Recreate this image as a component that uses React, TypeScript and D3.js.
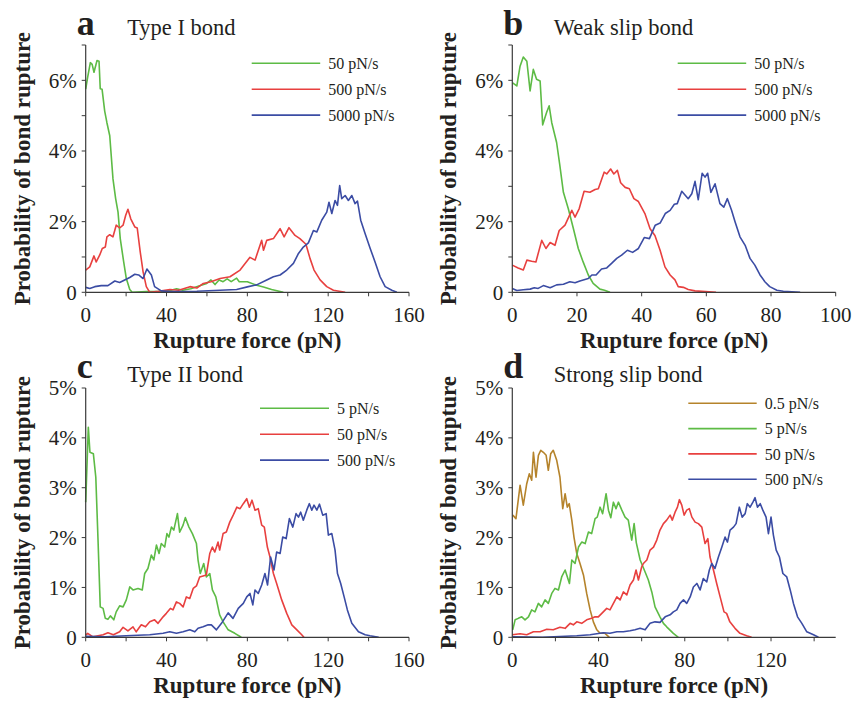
import React from "react";
import * as d3 from "d3";

// ---------- DATA (rupture force pN, probability %) ----------
const typeI_50: [number, number][] = [[0,5.75],[1,6.1],[2.3,6.5],[3.2,6.45],[4.1,6.23],[5.6,6.56],[6.6,6.54],[7.2,5.76],[8.1,5.75],[9.4,5.13],[10.5,4.8],[11.9,4.43],[13.5,3.21],[14.8,2.66],[16,2.27],[17.1,1.52],[18.8,0.86],[20.1,0.39],[21.8,0.08],[23,0],[30,0.02],[36,0.02],[41.7,0.05],[45,0.1],[48,0.06],[52,0.1],[56,0.18],[59.9,0.25],[62,0.35],[64,0.22],[66,0.35],[68,0.3],[70,0.38],[72,0.3],[74.7,0.4],[76,0.3],[80,0.3],[84.6,0.2],[88,0.15],[92,0.08],[97.8,0]];
const typeI_500: [number, number][] = [[0,0.63],[2,0.72],[4.1,1.03],[5.2,0.86],[6.9,1.05],[8.2,1.24],[9.7,1.28],[10.5,1.57],[11.9,1.63],[13.5,1.57],[15.1,1.9],[16.8,1.82],[18.5,1.9],[19.8,2.18],[20.9,2.35],[22.3,2.08],[24.3,1.85],[25.5,1.82],[27,1.14],[28.4,0.58],[30,0.16],[31.7,0],[36,0.03],[41.7,0.08],[46,0.06],[51.6,0.16],[55,0.12],[58.2,0.25],[62,0.3],[66.5,0.39],[71.4,0.44],[76.4,0.63],[81.3,0.99],[83.8,0.91],[87.1,1.47],[88,1.19],[89.6,1.47],[92.9,1.52],[96.2,1.8],[98.2,1.57],[100.6,1.83],[103.6,1.61],[106,1.52],[109,1.36],[111,0.96],[113,0.63],[116,0.35],[119.3,0.16],[122.6,0.06],[128.4,0]];
const typeI_5000: [number, number][] = [[0,0.14],[2,0.11],[4.5,0.16],[7.7,0.19],[11,0.19],[14.4,0.32],[16.8,0.28],[19.3,0.35],[21.8,0.42],[24.3,0.51],[26.2,0.49],[28.4,0.39],[30.3,0.66],[32.5,0.49],[34.1,0.16],[37.4,0.04],[42,0.02],[55,0.03],[66.5,0.06],[74.7,0.08],[80.5,0.16],[84.6,0.21],[89.6,0.35],[92.9,0.44],[96.2,0.49],[99.5,0.63],[102.8,0.82],[105.3,1.1],[107.7,1.28],[110.2,1.4],[112.7,1.75],[114.4,1.71],[116.8,2.04],[119.3,2.27],[120.4,2.55],[121.8,2.23],[123.4,2.6],[124.6,2.46],[125.7,3.02],[126.7,2.65],[128.4,2.74],[130,2.6],[131.7,2.74],[133.3,2.51],[134.5,2.58],[136.1,2.04],[138.3,1.66],[140.8,1.24],[143.2,0.86],[145.7,0.44],[148.2,0.16],[151.5,0.06],[154,0]];

const weak_50: [number, number][] = [[0.1,5.93],[1.4,5.84],[2.4,6.4],[3.4,6.66],[4.5,6.54],[5.5,5.7],[6.5,6.31],[7.5,6.03],[8.6,5.98],[9.4,4.74],[10.6,5.09],[11.4,5.28],[12.2,4.8],[13.7,4.24],[14.7,3.59],[15.8,2.83],[17.3,2.37],[18.9,1.8],[20.4,1.24],[21.9,0.86],[23.5,0.49],[25,0.25],[27.1,0.09],[28.5,0.06],[30.2,0]];
const weak_500: [number, number][] = [[0,0.77],[1.8,0.69],[3.4,0.63],[4.5,0.91],[6,0.88],[7.3,0.86],[9.1,1.47],[10.4,1.24],[11.7,1.41],[13.2,1.33],[14.5,1.75],[16.3,1.9],[18.4,2.32],[19.4,2.13],[20.7,2.37],[22.2,2.86],[24,2.83],[25.6,2.91],[26.6,2.93],[28.4,3.4],[29.2,3.35],[30.4,3.49],[31.4,3.35],[32.5,3.45],[33.5,3.1],[34.9,2.97],[36.2,2.93],[37.6,2.65],[39,2.57],[41,2.23],[42.6,1.8],[44.1,1.61],[45.7,1.19],[47.2,0.72],[48.8,0.49],[50.3,0.35],[51.3,0.16],[52.9,0.14],[54.4,0.08],[56.5,0.04],[63,0]];
const weak_5000: [number, number][] = [[0,0.11],[1.4,0.05],[3.4,0.07],[5.5,0.09],[6.8,0.13],[8,0.11],[9.6,0.19],[11.7,0.13],[13.7,0.21],[15.8,0.23],[17.8,0.3],[19.4,0.27],[20.9,0.32],[23.5,0.39],[24.6,0.49],[25.9,0.49],[27.6,0.66],[29.2,0.69],[30.7,0.82],[32.3,0.96],[33.8,1.05],[35.6,1.19],[37.2,1.13],[39,1.24],[40.8,1.55],[42.4,1.52],[44.2,1.9],[45.7,1.96],[47.3,2.23],[48.8,2.32],[50.1,2.49],[51,2.51],[52.4,2.86],[54.4,2.65],[55.5,2.79],[56.5,3.14],[57.5,2.62],[58.7,3.37],[59.6,3.26],[60.4,3.37],[61.4,2.83],[62.7,3.07],[64.2,2.51],[65.4,2.41],[66.5,2.65],[67.8,2.32],[68.9,1.99],[70.4,1.57],[72,1.33],[73.5,0.96],[75,0.77],[76.6,0.49],[78.1,0.3],[79.6,0.16],[81.8,0.06],[83.8,0.03],[89,0]];

const typeII_5: [number, number][] = [[0,2.71],[1.3,4.21],[2.1,3.71],[3.8,3.68],[5,3.21],[6.1,1.95],[7.2,0.61],[8.6,0.58],[9.7,0.38],[11,0.36],[12.2,0.43],[13.9,0.35],[15.1,0.51],[16.8,0.63],[18.5,0.61],[20.1,0.75],[21.8,1.01],[23.4,0.95],[25.9,0.98],[28,0.95],[29.2,1.28],[30.8,1.38],[32.5,1.65],[33.7,1.55],[35,1.85],[36.3,1.68],[37.4,1.88],[39.1,1.81],[40.2,2.08],[41.2,2.01],[42.4,2.21],[43.6,2.15],[45.4,2.48],[46.5,2.11],[48.2,2.25],[49.3,2.4],[51.1,2.21],[52.8,2.08],[54.8,1.88],[55.6,1.55],[56.7,1.28],[58.4,1.48],[59.7,1.21],[61.4,1.28],[62.7,0.95],[64.4,0.81],[66.3,0.45],[68,0.31],[70.5,0.15],[73.8,0.08],[77,0]];
const typeII_50: [number, number][] = [[0,0.05],[1,0.08],[3.6,0.01],[8.6,0.05],[11,0.09],[13.7,0.05],[16.8,0.11],[18.5,0.2],[20.9,0.13],[23.4,0.21],[25,0.11],[27.5,0.25],[29.6,0.21],[31.7,0.31],[34.1,0.35],[35.8,0.28],[38.3,0.41],[39.9,0.48],[41.9,0.58],[43.2,0.55],[44.9,0.71],[46.5,0.68],[48.2,0.61],[49.8,0.81],[51.5,0.78],[53.2,0.98],[54.8,1.03],[56.4,1.21],[58.1,1.23],[59.7,1.25],[61.4,1.68],[62.7,1.81],[63.9,1.71],[65.5,1.91],[66.3,1.75],[68,2.08],[69.6,2.11],[71.3,2.31],[73,2.45],[74.8,2.61],[76.4,2.58],[78,2.68],[79.7,2.78],[81,2.61],[82.3,2.75],[83.8,2.55],[85.4,2.58],[87.1,2.25],[88.4,2.21],[89.9,1.81],[91.2,1.61],[92.9,1.28],[94.5,1.08],[97,0.75],[99.5,0.48],[102,0.25],[104.5,0.15],[106.9,0.05],[108,0]];
const typeII_500: [number, number][] = [[0,0.02],[10,0.01],[20,0.03],[31.7,0.05],[38.3,0.08],[41.6,0.11],[44.9,0.08],[48.2,0.11],[51.5,0.15],[54,0.11],[55.6,0.18],[58.1,0.21],[60.6,0.25],[62.2,0.25],[64.7,0.15],[67.2,0.28],[70.5,0.49],[72.9,0.38],[75.5,0.58],[78,0.68],[79.7,0.81],[81.3,0.88],[82.7,0.65],[83.8,0.95],[85.4,0.88],[87.1,1.05],[88.7,1.28],[90,1.05],[91.5,1.61],[93.2,1.35],[94.5,1.71],[96.2,1.68],[97.5,2.01],[99.2,1.98],[100.8,2.38],[102.5,2.21],[104.1,2.48],[105.3,2.41],[106.4,2.51],[107.7,2.35],[109.4,2.55],[110.7,2.68],[111.9,2.55],[113,2.65],[114.4,2.55],[115.7,2.67],[117.3,2.45],[119,2.48],[120.1,2.05],[121.8,2.08],[123.4,1.75],[124.6,1.28],[126.2,1.08],[127.9,0.81],[129.5,0.55],[131.7,0.28],[135,0.11],[138.3,0.05],[140.7,0.03],[145,0]];

const strong_05: [number, number][] = [[0.2,2.45],[1.7,2.38],[3.6,3.05],[5.1,2.65],[6.7,3.08],[7.9,3.28],[9,3.15],[9.8,3.71],[11,3.21],[12.1,3.65],[13.2,3.75],[14.4,3.71],[15.7,3.65],[16.7,3.35],[17.8,3.68],[19,3.75],[20.6,3.55],[22.1,3.21],[23.4,2.58],[24.5,2.88],[25.5,2.61],[26.4,2.68],[27.6,2.35],[28.6,2.01],[29.9,1.68],[31.4,1.48],[33,1.25],[34.5,0.88],[36.1,0.55],[37.6,0.31],[39.2,0.15],[40.7,0.08],[43,0.08],[45,0]];
const strong_5: [number, number][] = [[0.2,0.15],[1.3,0.35],[2.8,0.38],[4.4,0.41],[5.9,0.35],[7.5,0.41],[9,0.55],[10.5,0.51],[12.1,0.68],[13.6,0.61],[15.2,0.75],[16.7,0.68],[18.3,0.88],[19.8,0.98],[21.4,0.95],[22.9,1.21],[24.5,1.35],[26.5,1.08],[27.6,1.55],[29.1,1.48],[30.7,1.81],[32.2,1.91],[33.8,1.88],[35.3,2.11],[36.8,2.08],[38.4,2.38],[39.4,2.41],[40.7,2.61],[41.9,2.48],[43.5,2.88],[44.6,2.55],[45.7,2.4],[46.9,2.71],[48.1,2.58],[49.2,2.71],[50.8,2.55],[52.3,2.41],[53.8,2.35],[55.4,1.95],[56.5,2.28],[57.5,1.9],[59.3,1.55],[61.6,1.31],[63.1,1.15],[64.7,0.91],[66.2,0.61],[68.5,0.41],[70.1,0.28],[71.6,0.21],[74.7,0.08],[77,0]];
const strong_50: [number, number][] = [[0,0.05],[3.6,0.07],[6.7,0.05],[9.8,0.11],[12.9,0.11],[16,0.16],[19,0.15],[22.1,0.2],[24.5,0.18],[26.8,0.28],[28.3,0.25],[29.9,0.31],[32.2,0.28],[34.5,0.35],[36.8,0.38],[38.4,0.41],[39.9,0.41],[42.2,0.51],[43.8,0.58],[45.3,0.55],[46.9,0.68],[48.5,0.81],[50,0.75],[51.5,0.91],[53.1,0.85],[54.6,1.05],[56.2,1.15],[57.4,1.35],[58.5,1.15],[60,1.41],[60.8,1.48],[62.4,1.55],[63.9,1.75],[65.5,1.81],[67,1.95],[68.5,2.15],[70.1,2.28],[71.6,2.35],[73.2,2.45],[74.2,2.35],[75.5,2.51],[76.6,2.61],[77.5,2.76],[78.6,2.65],[79.7,2.45],[80.9,2.55],[82.1,2.58],[83.3,2.41],[84.8,2.31],[86.3,2.28],[87.9,2.21],[89.4,1.88],[90.7,1.98],[91.7,1.61],[93.3,1.35],[94.8,1.08],[96.4,0.81],[98.2,0.51],[99.4,0.48],[100.9,0.31],[103.3,0.18],[105.6,0.08],[108.7,0.03],[111,0]];
const strong_500: [number, number][] = [[0,0.01],[14,0],[29.9,0.03],[36.1,0.05],[40.7,0.08],[42.2,0.09],[45.3,0.08],[48.5,0.11],[51.5,0.11],[54.6,0.13],[56.9,0.15],[59.3,0.18],[61.6,0.15],[63.9,0.28],[66.2,0.31],[68.5,0.3],[70.9,0.41],[73.2,0.45],[74.7,0.51],[76.3,0.55],[77.8,0.68],[79.4,0.75],[80.9,0.68],[82.5,0.81],[84,1.01],[85.6,1.08],[87.1,0.95],[88.6,1.18],[90.2,1.11],[91.4,1.35],[92.5,1.48],[94,1.38],[95.6,1.61],[97.2,1.81],[98.7,2.01],[99.8,1.91],[101,2.15],[102.6,2.21],[103.8,2.28],[105.3,2.61],[106.6,2.41],[108,2.48],[109,2.68],[110.3,2.61],[111.6,2.71],[112.6,2.8],[113.7,2.61],[115,2.68],[116.2,2.55],[117.7,2.41],[118.8,2.08],[120,2.41],[121.1,2.05],[122.4,1.75],[123.9,1.61],[125.5,1.28],[127.3,1.21],[128.9,0.95],[130.4,0.68],[132.3,0.41],[134.3,0.28],[136.6,0.11],[139.7,0.05],[142,0]];

const labelsA = ["50 pN/s", "500 pN/s", "5000 pN/s"];
const labelsC = ["5 pN/s", "50 pN/s", "500 pN/s"];
const labelsD = ["0.5 pN/s", "5 pN/s", "50 pN/s", "500 pN/s"];

const xTicksA = [0, 20, 40, 60, 80, 100, 120, 140, 160];
const xLabelsA = [0, 40, 80, 120, 160];
const xTicksB = [0, 20, 40, 60, 80, 100];
const xTicksD = [0, 20, 40, 60, 80, 100, 120, 140];
const xLabelsD = [0, 40, 80, 120];
const yTicks7 = [0, 1, 2, 3, 4, 5, 6, 7];
const yLabels7 = [0, 2, 4, 6];
const yTicks5 = [0, 1, 2, 3, 4, 5];
const yLabels5 = [0, 1, 2, 3, 4, 5];

const GREEN = "#5dbb45";
const RED = "#e8403f";
const BLUE = "#3b4ca4";
const BROWN = "#b5832b";

const SERIF = "'Liberation Serif', 'Times New Roman', serif";
const AXIS = "#3a3a3a";
const TEXT = "#231f20";

type Panel = {
  letter: string;
  title: string;
  x0: number; x1: number; yb: number; yt: number;
  xMax: number; yMax: number;
  xTicks: number[]; xLabels: number[];
  yTicks: number[]; yLabels: number[];
  series: { data: [number, number][]; color: string; label: string }[];
  legX: number; legY: number; legStep: number; legLen: number;
  letterY: number; titleY: number;
};

const panels: Panel[] = [
  {
    letter: "a", title: "Type I bond", x0: 85.7, x1: 409, yb: 292.3, yt: 45, xMax: 160, yMax: 7,
    xTicks: xTicksA, xLabels: xLabelsA, yTicks: yTicks7, yLabels: yLabels7,
    series: [
      { data: typeI_50, color: GREEN, label: labelsA[0] },
      { data: typeI_500, color: RED, label: labelsA[1] },
      { data: typeI_5000, color: BLUE, label: labelsA[2] },
    ],
    legX: 251.7, legY: 63.3, legStep: 25.9, legLen: 68.5, letterY: 35, titleY: 35,
  },
  {
    letter: "b", title: "Weak slip bond", x0: 512.3, x1: 835.7, yb: 292.3, yt: 45, xMax: 100, yMax: 7,
    xTicks: xTicksB, xLabels: xTicksB, yTicks: yTicks7, yLabels: yLabels7,
    series: [
      { data: weak_50, color: GREEN, label: labelsA[0] },
      { data: weak_500, color: RED, label: labelsA[1] },
      { data: weak_5000, color: BLUE, label: labelsA[2] },
    ],
    legX: 677.7, legY: 63.3, legStep: 25.9, legLen: 68.5, letterY: 35, titleY: 35,
  },
  {
    letter: "c", title: "Type II bond", x0: 85.7, x1: 409, yb: 637.3, yt: 388, xMax: 160, yMax: 5,
    xTicks: xTicksA, xLabels: xLabelsA, yTicks: yTicks5, yLabels: yLabels5,
    series: [
      { data: typeII_5, color: GREEN, label: labelsC[0] },
      { data: typeII_50, color: RED, label: labelsC[1] },
      { data: typeII_500, color: BLUE, label: labelsC[2] },
    ],
    legX: 260, legY: 408.3, legStep: 25.9, legLen: 69, letterY: 378.3, titleY: 381.5,
  },
  {
    letter: "d", title: "Strong slip bond", x0: 512.3, x1: 835.7, yb: 637.3, yt: 388, xMax: 150, yMax: 5,
    xTicks: xTicksD, xLabels: xLabelsD, yTicks: yTicks5, yLabels: yLabels5,
    series: [
      { data: strong_05, color: BROWN, label: labelsD[0] },
      { data: strong_5, color: GREEN, label: labelsD[1] },
      { data: strong_50, color: RED, label: labelsD[2] },
      { data: strong_500, color: BLUE, label: labelsD[3] },
    ],
    legX: 688.3, legY: 403.3, legStep: 25.3, legLen: 68.4, letterY: 378.3, titleY: 381.5,
  },
];

function PanelView({ p }: { p: Panel }) {
  const x = d3.scaleLinear().domain([0, p.xMax]).range([p.x0, p.x1]);
  const y = d3.scaleLinear().domain([0, p.yMax]).range([p.yb, p.yt]);
  const line = d3.line<[number, number]>().x((d) => x(d[0])).y((d) => y(d[1]));
  const ylabelX = p.x0 - 56;
  const ymid = (p.yb + p.yt) / 2;
  const xmid = (p.x0 + p.x1) / 2;
  return (
    <g>
      {/* curves */}
      {p.series.map((s, i) => (
        <path key={i} d={line(s.data) || ""} fill="none" stroke={s.color} strokeWidth={1.6} strokeLinejoin="round" />
      ))}
      {/* axes */}
      <line x1={p.x0} x2={p.x0} y1={p.yt} y2={p.yb} stroke={AXIS} strokeWidth={1.2} />
      <line x1={p.x0} x2={p.x1} y1={p.yb} y2={p.yb} stroke={AXIS} strokeWidth={1.2} />
      {p.yTicks.map((t) => (
        <line key={"yt" + t} x1={p.x0 - 4} x2={p.x0} y1={y(t)} y2={y(t)} stroke={AXIS} strokeWidth={1} />
      ))}
      {p.xTicks.map((t) => (
        <line key={"xt" + t} x1={x(t)} x2={x(t)} y1={p.yb} y2={p.yb + 4} stroke={AXIS} strokeWidth={1} />
      ))}
      {p.yLabels.map((t) => (
        <text key={"yl" + t} x={p.x0 - 9} y={y(t)} dy="0.35em" textAnchor="end" fontFamily={SERIF} fontSize={21} fill={TEXT}>
          {t === 0 ? "0" : `${t}%`}
        </text>
      ))}
      {p.xLabels.map((t) => (
        <text key={"xl" + t} x={x(t)} y={p.yb + 29.5} textAnchor="middle" fontFamily={SERIF} fontSize={21} fill={TEXT}>
          {t}
        </text>
      ))}
      {/* axis titles */}
      <text x={xmid} y={p.yb + 56} textAnchor="middle" fontFamily={SERIF} fontSize={23} fontWeight="bold" fill={TEXT}>
        Rupture force (pN)
      </text>
      <text transform={`translate(${ylabelX},${ymid}) rotate(-90)`} textAnchor="middle" fontFamily={SERIF} fontSize={23} fontWeight="bold" fill={TEXT}>
        Probability of bond rupture
      </text>
      {/* panel letter and title */}
      <text x={p.x0 - 9} y={p.letterY} fontFamily={SERIF} fontSize={36} fontWeight="bold" fill={TEXT}>
        {p.letter}
      </text>
      <text x={p.x0 + 41.5} y={p.titleY} fontFamily={SERIF} fontSize={22.5} fill={TEXT}>
        {p.title}
      </text>
      {/* legend */}
      {p.series.map((s, i) => (
        <g key={"lg" + i}>
          <line x1={p.legX} x2={p.legX + p.legLen} y1={p.legY + i * p.legStep} y2={p.legY + i * p.legStep} stroke={s.color} strokeWidth={1.6} />
          <text x={p.legX + p.legLen + 8} y={p.legY + i * p.legStep} dy="0.35em" fontFamily={SERIF} fontSize={16} fill={TEXT}>
            {s.label}
          </text>
        </g>
      ))}
    </g>
  );
}

export default function App() {
  return (
    <svg width={855} height={702} viewBox="0 0 855 702" style={{ position: "absolute", left: 0, top: 0, background: "#fff" }}>
      <rect x={0} y={0} width={855} height={702} fill="#fff" />
      {panels.map((p) => (
        <PanelView key={p.letter} p={p} />
      ))}
    </svg>
  );
}
